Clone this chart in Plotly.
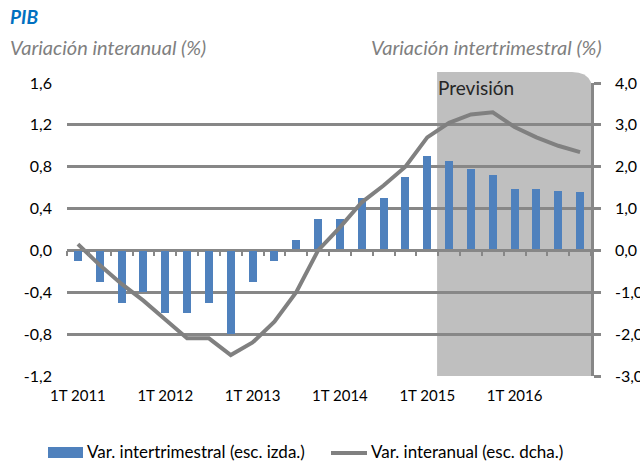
import plotly.graph_objects as go

# quarters 1T2011 .. 4T2016
quarters = [f"{q}T {y}" for y in range(2011, 2017) for q in range(1, 5)]
tick_labels = ["1T 2011", "1T 2012", "1T 2013", "1T 2014", "1T 2015", "1T 2016"]

# Var. intertrimestral (esc. izda.)
var_intertrimestral = [-0.1, -0.3, -0.5, -0.4,
                       -0.6, -0.6, -0.5, -0.8,
                       -0.3, -0.1, 0.1, 0.3,
                       0.3, 0.5, 0.5, 0.7,
                       0.9, 0.85, 0.78, 0.72,
                       0.59, 0.59, 0.57, 0.56]

# Var. interanual (esc. dcha.)
var_interanual = [0.15, -0.35, -0.8, -1.2,
                  -1.65, -2.1, -2.1, -2.5,
                  -2.2, -1.7, -1.0, 0.0,
                  0.55, 1.15, 1.55, 2.0,
                  2.7, 3.05, 3.25, 3.3,
                  2.95, 2.7, 2.5, 2.35]

forecast_start = 16.45  # shading starts after 1T 2015

FONT = "Lato"
GRID = "#878787"
BLUE = "#4F81BD"
LINE = "#808080"

idx = list(range(len(quarters)))
n = len(quarters)

fig = go.Figure()

fig.add_trace(go.Bar(
    x=idx, y=var_intertrimestral, name="Var. intertrimestral (esc. izda.)",
    marker_color=BLUE, marker_line_width=0, width=0.37,
    xaxis="x", yaxis="y", showlegend=False,
))
fig.add_trace(go.Scatter(
    x=idx, y=var_interanual, name="Var. interanual (esc. dcha.)",
    mode="lines", line=dict(color=LINE, width=4),
    xaxis="x", yaxis="y2", showlegend=False,
))
# helper trace so the zero-level axis (tick marks) gets drawn
fig.add_trace(go.Scatter(
    x=[0], y=[0], mode="markers", marker=dict(opacity=0),
    xaxis="x2", yaxis="y", showlegend=False, hoverinfo="skip",
))

# forecast shading with rounded top-right corner
x0, x1 = forecast_start, n - 0.5 + 0.08
ytop, ybot = 1.0375, 0.0
rx, ry = 0.95, 0.07
path = (f"M {x0},{ybot} L {x0},{ytop} L {x1 - rx},{ytop} "
        f"Q {x1},{ytop} {x1},{ytop - ry} L {x1},{ybot} Z")
fig.add_shape(type="path", path=path, xref="x", yref="paper",
              fillcolor="#BFBFBF", line_width=0, layer="below")

fig.update_layout(
    width=640, height=461,
    margin=dict(l=67, r=49, t=83, b=85),
    paper_bgcolor="white", plot_bgcolor="white",
    font=dict(family=FONT, size=16, color="#000000"),
    bargap=0,
    xaxis=dict(
        range=[-0.5, n - 0.5], tickmode="array", automargin=False,
        tickvals=[0, 4, 8, 12, 16, 20], ticktext=tick_labels,
        ticks="", showline=False, showgrid=False, zeroline=False,
        tickfont=dict(size=15, color="#000000"), ticklabelstandoff=9,
    ),
    xaxis2=dict(
        range=[-0.5, n - 0.5], overlaying="x", anchor="free", automargin=False,
        position=1.2 / 2.8, tickmode="array",
        tickvals=[i - 0.5 for i in range(n + 1)],
        ticks="outside", ticklen=5, tickwidth=2, tickcolor=GRID,
        showticklabels=False, showline=True, linecolor=GRID, linewidth=2,
        showgrid=False, zeroline=False,
    ),
    yaxis=dict(
        range=[-1.2, 1.6], tickmode="array", automargin=False,
        tickvals=[-1.2, -0.8, -0.4, 0.0, 0.4, 0.8, 1.2, 1.6],
        ticktext=["-1,2", "-0,8", "-0,4", "0,0", "0,4", "0,8", "1,2", "1,6"],
        showgrid=True, gridcolor=GRID, gridwidth=2.5,
        zeroline=False, showline=False, ticks="", ticklen=0,
        tickfont=dict(size=16), ticklabelstandoff=14,
    ),
    yaxis2=dict(
        range=[-3, 4], overlaying="y", side="right", tickmode="array", automargin=False,
        tickvals=[-3, -2, -1, 0, 1, 2, 3, 4],
        ticktext=["-3,0", "-2,0", "-1,0", "0,0", "1,0", "2,0", "3,0", "4,0"],
        showgrid=False, zeroline=False,
        showline=True, linecolor=GRID, linewidth=2.5,
        ticks="outside", ticklen=7, tickwidth=2.5, tickcolor=GRID,
        tickfont=dict(size=16), ticklabelstandoff=11,
    ),
)

# titles
fig.add_annotation(text="<b><i>PIB</i></b>", xref="paper", yref="paper",
                   x=-0.112, y=1.2253, xanchor="left", yanchor="middle",
                   showarrow=False, font=dict(size=19, color="#0070C0"))
fig.add_annotation(text="<i>Variación interanual (%)</i>", xref="paper", yref="paper",
                   x=-0.112, y=(376 - 47) / 293, xanchor="left", yanchor="middle",
                   showarrow=False, font=dict(size=20, color="#7F7F7F"))
fig.add_annotation(text="<i>Variación intertrimestral (%)</i>", xref="paper", yref="paper",
                   x=(604 - 67) / 524, y=(376 - 47) / 293, xanchor="right", yanchor="middle",
                   showarrow=False, font=dict(size=20, color="#7F7F7F"))
fig.add_annotation(text="Previsión", xref="x", yref="paper",
                   x=forecast_start - 0.05, y=0.983, xanchor="left", yanchor="middle",
                   showarrow=False, font=dict(size=19, color="#262626"))

# legend drawn by hand to match box sizes
fig.add_shape(type="rect", xref="paper", yref="paper",
              x0=(48 - 67) / 524, x1=(83 - 67) / 524,
              y0=(376 - 458) / 293, y1=(376 - 447) / 293,
              fillcolor=BLUE, line_width=0)
fig.add_annotation(text="Var. intertrimestral (esc. izda.)", xref="paper", yref="paper",
                   x=(85 - 67) / 524, y=(376 - 452) / 293, xanchor="left", yanchor="middle",
                   showarrow=False, font=dict(size=17, color="#000000"))
fig.add_shape(type="line", xref="paper", yref="paper",
              x0=(331 - 67) / 524, x1=(367 - 67) / 524,
              y0=(376 - 453) / 293, y1=(376 - 453) / 293,
              line=dict(color=LINE, width=4))
fig.add_annotation(text="Var. interanual (esc. dcha.)", xref="paper", yref="paper",
                   x=(369 - 67) / 524, y=(376 - 452) / 293, xanchor="left", yanchor="middle",
                   showarrow=False, font=dict(size=17, color="#000000"))

fig.write_html("out.html", config={"displayModeBar": False},
               post_script="document.body.style.margin='0px';document.body.style.overflow='hidden';")
